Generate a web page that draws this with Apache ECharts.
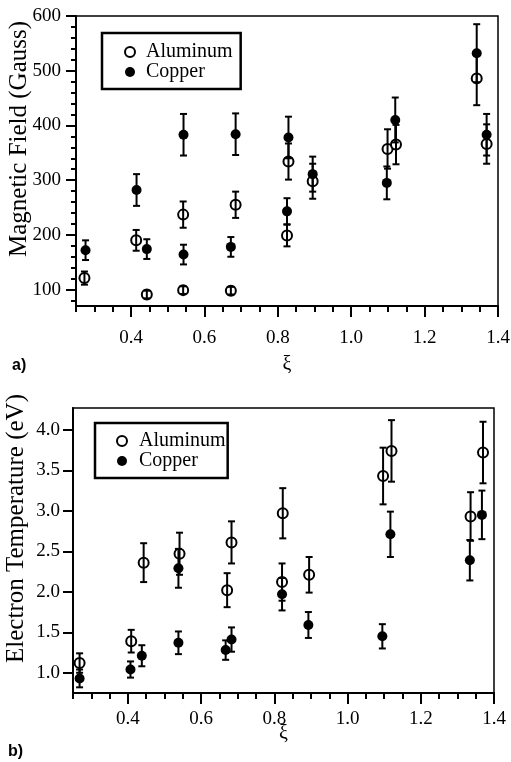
<!DOCTYPE html>
<html>
<head>
<meta charset="utf-8">
<script src="https://cdn.jsdelivr.net/npm/echarts@6/dist/echarts.min.js"></script>
<style>
html,body{margin:0;padding:0;background:#fff;}
#chart{width:511px;height:762px;}
</style>
</head>
<body>
<div id="chart"></div>
<script>
// ---- tick labels ----
const xiTicks = [0.4, 0.6, 0.8, 1.0, 1.2, 1.4];
const xiMinorTicks = [0.25, 0.3, 0.35, 0.45, 0.5, 0.55, 0.65, 0.7, 0.75, 0.85, 0.9, 0.95, 1.05, 1.1, 1.15, 1.25, 1.3, 1.35];
const fieldTicks = [100, 200, 300, 400, 500, 600];
const fieldMinorTicks = [80, 120, 140, 160, 180, 220, 240, 260, 280, 320, 340, 360, 380, 420, 440, 460, 480, 520, 540, 560, 580];
const tempTicks = [1.0, 1.5, 2.0, 2.5, 3.0, 3.5, 4.0];
const seriesNames = ['Aluminum', 'Copper'];

// ---- panel a: magnetic field (Gauss) ----
const alXiA = [0.273, 0.414, 0.443, 0.542, 0.542, 0.672, 0.685, 0.829, 0.825, 0.895, 1.099, 1.122, 1.342, 1.369];
const alFieldA = [121, 190, 91, 237, 99, 98, 255, 334, 199, 298, 357, 365, 486, 366];
const alFieldErrA = [12, 19, 7, 24, 7, 7, 24, 33, 20, 32, 36, 36, 49, 36];
const cuXiA = [0.276, 0.415, 0.443, 0.543, 0.543, 0.672, 0.685, 0.829, 0.825, 0.895, 1.097, 1.120, 1.342, 1.369];
const cuFieldA = [172, 282, 174, 383, 164, 178, 384, 378, 243, 311, 295, 410, 532, 383];
const cuFieldErrA = [18, 29, 18, 38, 18, 18, 38, 38, 24, 32, 30, 41, 53, 38];

// ---- panel b: electron temperature (eV) ----
const alXiB = [0.268, 0.409, 0.443, 0.541, 0.671, 0.683, 0.823, 0.821, 0.895, 1.097, 1.120, 1.336, 1.370];
const alTempB = [1.12, 1.39, 2.36, 2.47, 2.02, 2.61, 2.97, 2.12, 2.21, 3.43, 3.74, 2.93, 3.72];
const alTempErrB = [0.12, 0.14, 0.24, 0.26, 0.21, 0.26, 0.31, 0.23, 0.22, 0.35, 0.38, 0.30, 0.38];
const cuXiB = [0.268, 0.407, 0.438, 0.538, 0.538, 0.667, 0.683, 0.821, 0.893, 1.095, 1.117, 1.334, 1.367];
const cuTempB = [0.93, 1.04, 1.21, 2.29, 1.37, 1.28, 1.41, 1.97, 1.59, 1.45, 2.71, 2.39, 2.95];
const cuTempErrB = [0.11, 0.10, 0.13, 0.24, 0.14, 0.12, 0.15, 0.20, 0.16, 0.15, 0.28, 0.25, 0.30];

const SERIF = 'Liberation Serif';
const zip2 = (xs, ys) => xs.map((x, i) => [x, ys[i]]);
const zip3 = (xs, ys, es) => xs.map((x, i) => [x, ys[i], es[i]]);

function errRender(params, api) {
  const x = api.value(0), y = api.value(1), e = api.value(2);
  const t = api.coord([x, y + e]);
  const b = api.coord([x, y - e]);
  const hw = 3.5;
  const st = { stroke: '#000', lineWidth: 2 };
  return {
    type: 'group',
    children: [
      { type: 'line', shape: { x1: t[0], y1: t[1], x2: b[0], y2: b[1] }, style: st },
      { type: 'line', shape: { x1: t[0] - hw, y1: t[1], x2: t[0] + hw, y2: t[1] }, style: st },
      { type: 'line', shape: { x1: b[0] - hw, y1: b[1], x2: b[0] + hw, y2: b[1] }, style: st }
    ]
  };
}

function mainX(grid, margin, gap) {
  return {
    type: 'value', gridIndex: grid, position: 'bottom', min: 0.25, max: 1.4,
    axisLine: { lineStyle: { color: '#000', width: 2 } },
    axisTick: { customValues: xiTicks, length: 11, lineStyle: { color: '#000', width: 2 } },
    axisLabel: { customValues: xiTicks, margin: margin, color: '#000', fontFamily: SERIF, fontSize: 19,
      formatter: v => v.toFixed(1) },
    splitLine: { show: false },
    name: 'ξ', nameLocation: 'middle', nameGap: gap, nameMoveOverlap: false,
    nameTextStyle: { color: '#000', fontFamily: SERIF, fontSize: 20 }
  };
}
function minorX(grid) {
  return {
    type: 'value', gridIndex: grid, position: 'bottom', min: 0.25, max: 1.4,
    axisLine: { show: false },
    axisTick: { customValues: xiMinorTicks, length: 6, lineStyle: { color: '#000', width: 2 } },
    axisLabel: { show: false }, splitLine: { show: false }
  };
}

const chart = echarts.init(document.getElementById('chart'));
chart.setOption({
  backgroundColor: '#fff',
  animation: false,
  title: [
    { text: 'a)', left: 7, top: 353, textStyle: { fontFamily: 'Liberation Sans', fontWeight: 'bold', fontSize: 16, color: '#000' } },
    { text: 'b)', left: 3, top: 739, textStyle: { fontFamily: 'Liberation Sans', fontWeight: 'bold', fontSize: 16, color: '#000' } }
  ],
  legend: [
    {
      data: seriesNames, left: 102, top: 33, orient: 'vertical', selectedMode: false,
      borderColor: '#000', borderWidth: 2.5, padding: [9, 8, 7, 22], itemGap: 0,
      itemWidth: 10, itemHeight: 10,
      textStyle: { fontFamily: SERIF, fontSize: 20, lineHeight: 19, color: '#000', padding: [0, 0, 0, 6] }
    },
    {
      data: seriesNames, left: 95, top: 423, orient: 'vertical', selectedMode: false,
      borderColor: '#000', borderWidth: 2.5, padding: [8, 2, 7, 21], itemGap: 0,
      itemWidth: 10, itemHeight: 10,
      textStyle: { fontFamily: SERIF, fontSize: 20, lineHeight: 20, color: '#000', padding: [0, 0, 0, 7] }
    }
  ],
  grid: [
    { left: 76, top: 16, width: 422, height: 290, show: true, borderColor: '#000', borderWidth: 1.5,
      containLabel: false, outerBoundsMode: 'none' },
    { left: 73, top: 408, width: 421, height: 285, show: true, borderColor: '#000', borderWidth: 1.5,
      containLabel: false, outerBoundsMode: 'none' }
  ],
  xAxis: [mainX(0, 23, 49), minorX(0), mainX(1, 17, 31), minorX(1)],
  yAxis: [
    {
      type: 'value', gridIndex: 0, min: 70, max: 600,
      axisLine: { show: true, lineStyle: { color: '#000', width: 2 } },
      axisTick: { show: true, customValues: fieldTicks, length: 10, lineStyle: { color: '#000', width: 2 } },
      axisLabel: { customValues: fieldTicks, margin: 15, color: '#000', fontFamily: SERIF, fontSize: 19 },
      splitLine: { show: false },
      name: 'Magnetic Field (Gauss)', nameLocation: 'middle', nameGap: 44, nameMoveOverlap: false,
      nameTextStyle: { color: '#000', fontFamily: SERIF, fontSize: 25, padding: [0, 0, 0, 44] }
    },
    {
      type: 'value', gridIndex: 0, position: 'left', min: 70, max: 600,
      axisLine: { show: false },
      axisTick: { show: true, customValues: fieldMinorTicks, length: 5, lineStyle: { color: '#000', width: 2 } },
      axisLabel: { show: false }, splitLine: { show: false }
    },
    {
      type: 'value', gridIndex: 1, min: 0.75, max: 4.27,
      axisLine: { show: true, lineStyle: { color: '#000', width: 2 } },
      axisTick: { show: true, customValues: tempTicks, length: 10, lineStyle: { color: '#000', width: 2 } },
      axisLabel: { customValues: tempTicks, margin: 13, color: '#000', fontFamily: SERIF, fontSize: 19,
        formatter: v => v.toFixed(1) },
      splitLine: { show: false },
      name: 'Electron Temperature (eV)', nameLocation: 'middle', nameGap: 44, nameMoveOverlap: false,
      nameTextStyle: { color: '#000', fontFamily: SERIF, fontSize: 25, padding: [0, 0, 0, 44] }
    },
    {
      type: 'value', gridIndex: 1, position: 'left', min: 0.75, max: 4.27, show: false
    }
  ],
  series: [
    { name: 'Aluminum', type: 'scatter', xAxisIndex: 0, yAxisIndex: 0, symbol: 'circle', symbolSize: 10, z: 2,
      itemStyle: { color: '#fff', borderColor: '#000', borderWidth: 2, opacity: 1 }, data: zip2(alXiA, alFieldA) },
    { name: 'Copper', type: 'scatter', xAxisIndex: 0, yAxisIndex: 0, symbol: 'circle', symbolSize: 10, z: 2,
      itemStyle: { color: '#000', opacity: 1 }, data: zip2(cuXiA, cuFieldA) },
    { type: 'custom', xAxisIndex: 0, yAxisIndex: 0, z: 3, renderItem: errRender, encode: { x: 0, y: 1 },
      data: zip3(alXiA, alFieldA, alFieldErrA) },
    { type: 'custom', xAxisIndex: 0, yAxisIndex: 0, z: 3, renderItem: errRender, encode: { x: 0, y: 1 },
      data: zip3(cuXiA, cuFieldA, cuFieldErrA) },

    { name: 'Aluminum', type: 'scatter', xAxisIndex: 2, yAxisIndex: 2, symbol: 'circle', symbolSize: 10, z: 2,
      itemStyle: { color: '#fff', borderColor: '#000', borderWidth: 2, opacity: 1 }, data: zip2(alXiB, alTempB) },
    { name: 'Copper', type: 'scatter', xAxisIndex: 2, yAxisIndex: 2, symbol: 'circle', symbolSize: 10, z: 2,
      itemStyle: { color: '#000', opacity: 1 }, data: zip2(cuXiB, cuTempB) },
    { type: 'custom', xAxisIndex: 2, yAxisIndex: 2, z: 3, renderItem: errRender, encode: { x: 0, y: 1 },
      data: zip3(alXiB, alTempB, alTempErrB) },
    { type: 'custom', xAxisIndex: 2, yAxisIndex: 2, z: 3, renderItem: errRender, encode: { x: 0, y: 1 },
      data: zip3(cuXiB, cuTempB, cuTempErrB) }
  ]
});
</script>
</body>
</html>
